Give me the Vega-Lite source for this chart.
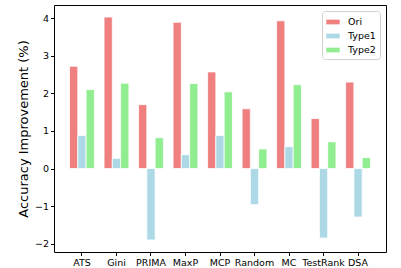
{
  "$schema": "https://vega.github.io/schema/vega-lite/v6.json",
  "width": 332,
  "height": 247,
  "autosize": {"type": "none"},
  "padding": {"left": 54, "top": 5, "right": 15, "bottom": 16},
  "background": "white",
  "config": {
    "view": {"stroke": "black", "strokeWidth": 1},
    "font": "DejaVu Sans",
    "axis": {"labelFont": "DejaVu Sans", "titleFont": "DejaVu Sans", "labelColor": "black", "tickColor": "black", "domain": false, "grid": false}
  },
  "data": {"values": [
    {"m": "ATS", "t": "Ori", "v": 2.72}, {"m": "ATS", "t": "Type1", "v": 0.88}, {"m": "ATS", "t": "Type2", "v": 2.10},
    {"m": "Gini", "t": "Ori", "v": 4.03}, {"m": "Gini", "t": "Type1", "v": 0.27}, {"m": "Gini", "t": "Type2", "v": 2.27},
    {"m": "PRIMA", "t": "Ori", "v": 1.70}, {"m": "PRIMA", "t": "Type1", "v": -1.90}, {"m": "PRIMA", "t": "Type2", "v": 0.82},
    {"m": "MaxP", "t": "Ori", "v": 3.89}, {"m": "MaxP", "t": "Type1", "v": 0.37}, {"m": "MaxP", "t": "Type2", "v": 2.26},
    {"m": "MCP", "t": "Ori", "v": 2.57}, {"m": "MCP", "t": "Type1", "v": 0.88}, {"m": "MCP", "t": "Type2", "v": 2.04},
    {"m": "Random", "t": "Ori", "v": 1.59}, {"m": "Random", "t": "Type1", "v": -0.96}, {"m": "Random", "t": "Type2", "v": 0.52},
    {"m": "MC", "t": "Ori", "v": 3.93}, {"m": "MC", "t": "Type1", "v": 0.58}, {"m": "MC", "t": "Type2", "v": 2.23},
    {"m": "TestRank", "t": "Ori", "v": 1.33}, {"m": "TestRank", "t": "Type1", "v": -1.85}, {"m": "TestRank", "t": "Type2", "v": 0.71},
    {"m": "DSA", "t": "Ori", "v": 2.30}, {"m": "DSA", "t": "Type1", "v": -1.29}, {"m": "DSA", "t": "Type2", "v": 0.29}
  ]},
  "mark": {"type": "bar", "stroke": "white", "strokeWidth": 0.8},
  "encoding": {
    "x": {
      "field": "m", "type": "nominal", "sort": null,
      "scale": {"paddingInner": 0.28, "paddingOuter": 0.45},
      "axis": {"title": null, "labelAngle": 0, "labelFontSize": 9.5, "tickSize": 3.5, "labelPadding": 2}
    },
    "xOffset": {"field": "t", "type": "nominal", "scale": {"paddingInner": 0, "paddingOuter": 0}},
    "y": {
      "field": "v", "type": "quantitative",
      "scale": {"domain": [-2.22, 4.35], "nice": false, "zero": false},
      "axis": {"title": "Accuracy Improvement (%)", "titleFontSize": 13, "titleFontWeight": "normal", "titlePadding": 4, "values": [-2, -1, 0, 1, 2, 3, 4], "labelExpr": "replace(datum.label, '-', '−')", "labelFontSize": 9.5, "tickSize": 3.5, "labelPadding": 2}
    },
    "color": {
      "field": "t", "type": "nominal",
      "scale": {"domain": ["Ori", "Type1", "Type2"], "range": ["#F08080", "#ADD8E6", "#90EE90"]},
      "legend": {
        "title": null, "orient": "top-right", "offset": 6,
        "fillColor": "white", "strokeColor": "#d0d0d0", "cornerRadius": 3, "padding": 4,
        "symbolType": "M-1,-0.35H1V0.35H-1Z", "symbolSize": 180, "symbolStrokeWidth": 0,
        "labelFontSize": 9.5, "labelColor": "black", "rowPadding": 2, "labelOffset": 8
      }
    }
  }
}
